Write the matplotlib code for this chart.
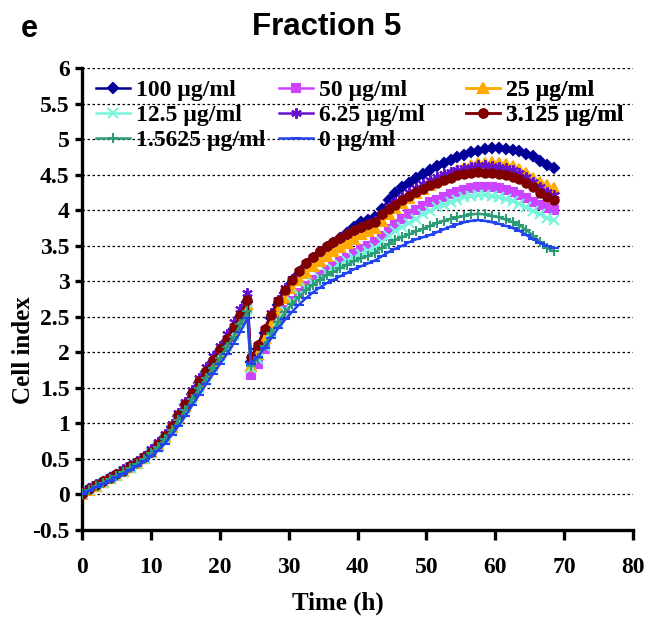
import matplotlib
matplotlib.use("Agg")
import matplotlib.pyplot as plt

# time points (h): hourly up to 24 h, then half-hour offset after the medium change
time_h = [0, 1, 2, 3, 4, 5, 6, 7, 8, 9, 10, 11, 12, 13, 14, 15, 16, 17, 18, 19,
          20, 21, 22, 23, 24,
          24.5, 25.5, 26.5, 27.5, 28.5, 29.5, 30.5, 31.5, 32.5, 33.5,
          34.5, 35.5, 36.5, 37.5, 38.5, 39.5, 40.5, 41.5, 42.5, 43.5,
          44.5, 45.5, 46.5, 47.5, 48.5, 49.5, 50.5, 51.5, 52.5, 53.5,
          54.5, 55.5, 56.5, 57.5, 58.5, 59.5, 60.5, 61.5, 62.5, 63.5,
          64.5, 65.5, 66.5, 67.5, 68.5]

ci_100 = [0, 0.07, 0.12, 0.17, 0.22, 0.27, 0.32, 0.38, 0.44, 0.51, 0.59, 0.69, 0.81, 0.95, 1.10,
          1.25, 1.41, 1.57, 1.72, 1.86, 2.01, 2.16, 2.32, 2.50, 2.70,
          1.86, 2.05, 2.27, 2.48, 2.67, 2.84, 2.98, 3.10, 3.21, 3.31,
          3.40, 3.47, 3.54, 3.61, 3.68, 3.76, 3.83, 3.86, 3.90, 4.02,
          4.14, 4.24, 4.32, 4.39, 4.45, 4.51, 4.56, 4.62, 4.67, 4.71,
          4.75, 4.78, 4.82, 4.84, 4.86, 4.87, 4.87, 4.86, 4.85, 4.83,
          4.79, 4.76, 4.70, 4.64, 4.60]
ci_50 = [0, 0.06, 0.11, 0.16, 0.21, 0.26, 0.31, 0.37, 0.43, 0.50, 0.58, 0.67, 0.78, 0.91, 1.05,
         1.20, 1.36, 1.52, 1.67, 1.81, 1.96, 2.11, 2.27, 2.44, 2.62,
         1.68, 1.84, 2.05, 2.26, 2.44, 2.59, 2.72, 2.83, 2.93, 3.02,
         3.09, 3.16, 3.22, 3.28, 3.33, 3.39, 3.45, 3.50, 3.55, 3.64,
         3.73, 3.80, 3.87, 3.94, 4.00, 4.06, 4.11, 4.15, 4.19, 4.23,
         4.26, 4.29, 4.31, 4.33, 4.33, 4.32, 4.31, 4.29, 4.26, 4.22,
         4.17, 4.12, 4.07, 4.03, 4.00]
ci_25 = [0, 0.06, 0.12, 0.17, 0.22, 0.27, 0.32, 0.38, 0.44, 0.51, 0.59, 0.69, 0.80, 0.94, 1.09,
         1.24, 1.40, 1.56, 1.71, 1.85, 2.00, 2.15, 2.31, 2.49, 2.68,
         1.80, 1.98, 2.20, 2.41, 2.60, 2.76, 2.90, 3.02, 3.12, 3.21,
         3.29, 3.36, 3.42, 3.48, 3.54, 3.60, 3.66, 3.70, 3.75, 3.85,
         3.95, 4.03, 4.10, 4.17, 4.24, 4.30, 4.36, 4.42, 4.47, 4.52,
         4.56, 4.60, 4.63, 4.66, 4.67, 4.68, 4.67, 4.65, 4.62, 4.58,
         4.52, 4.46, 4.40, 4.35, 4.31]
ci_12_5 = [0, 0.06, 0.11, 0.16, 0.21, 0.26, 0.31, 0.37, 0.43, 0.50, 0.58, 0.67, 0.78, 0.91, 1.05,
           1.20, 1.35, 1.50, 1.65, 1.79, 1.93, 2.08, 2.24, 2.41, 2.60,
           1.78, 1.90, 2.08, 2.27, 2.44, 2.58, 2.70, 2.81, 2.90, 2.98,
           3.05, 3.11, 3.17, 3.23, 3.28, 3.33, 3.38, 3.42, 3.47, 3.55,
           3.63, 3.70, 3.76, 3.82, 3.88, 3.94, 3.99, 4.04, 4.08, 4.12,
           4.15, 4.18, 4.20, 4.21, 4.21, 4.20, 4.18, 4.16, 4.13, 4.09,
           4.04, 3.99, 3.94, 3.89, 3.86]
ci_6_25 = [0, 0.08, 0.14, 0.19, 0.24, 0.29, 0.35, 0.41, 0.47, 0.54, 0.63, 0.73, 0.85, 0.99, 1.14,
           1.30, 1.47, 1.63, 1.79, 1.94, 2.09, 2.25, 2.42, 2.61, 2.84,
           1.90, 2.10, 2.33, 2.55, 2.74, 2.90, 3.03, 3.15, 3.25, 3.34,
           3.42, 3.49, 3.55, 3.61, 3.66, 3.72, 3.77, 3.81, 3.85, 3.95,
           4.04, 4.11, 4.18, 4.25, 4.31, 4.37, 4.42, 4.47, 4.51, 4.54,
           4.57, 4.59, 4.61, 4.63, 4.63, 4.62, 4.61, 4.59, 4.56, 4.52,
           4.47, 4.40, 4.33, 4.26, 4.21]
ci_3_125 = [0, 0.07, 0.13, 0.18, 0.23, 0.28, 0.33, 0.39, 0.45, 0.52, 0.60, 0.70, 0.82, 0.96, 1.11,
            1.27, 1.43, 1.59, 1.74, 1.89, 2.04, 2.19, 2.35, 2.53, 2.74,
            1.93, 2.10, 2.32, 2.53, 2.72, 2.88, 3.02, 3.14, 3.25, 3.34,
            3.42, 3.49, 3.55, 3.61, 3.66, 3.72, 3.77, 3.80, 3.84, 3.94,
            4.02, 4.08, 4.14, 4.20, 4.25, 4.30, 4.35, 4.39, 4.43, 4.46,
            4.49, 4.51, 4.53, 4.54, 4.53, 4.52, 4.51, 4.49, 4.47, 4.44,
            4.39, 4.32, 4.24, 4.18, 4.14]
ci_1_5625 = [0, 0.06, 0.11, 0.16, 0.21, 0.26, 0.31, 0.37, 0.43, 0.50, 0.58, 0.67, 0.78, 0.90, 1.04,
             1.19, 1.34, 1.49, 1.64, 1.78, 1.92, 2.07, 2.22, 2.39, 2.58,
             1.80, 1.92, 2.09, 2.27, 2.43, 2.56, 2.68, 2.78, 2.87, 2.95,
             3.02, 3.08, 3.13, 3.18, 3.23, 3.28, 3.32, 3.36, 3.40, 3.47,
             3.53, 3.58, 3.62, 3.66, 3.70, 3.74, 3.78, 3.82, 3.85, 3.88,
             3.90, 3.92, 3.94, 3.95, 3.94, 3.92, 3.90, 3.87, 3.83, 3.79,
             3.72, 3.64, 3.55, 3.47, 3.42]
ci_0 = [0, 0.05, 0.10, 0.14, 0.19, 0.24, 0.29, 0.34, 0.40, 0.46, 0.53, 0.61, 0.71, 0.83, 0.96,
        1.10, 1.25, 1.40, 1.55, 1.69, 1.83, 1.97, 2.12, 2.29, 2.48,
        1.84, 1.93, 2.06, 2.20, 2.34, 2.46, 2.57, 2.67, 2.76, 2.84,
        2.91, 2.97, 3.02, 3.07, 3.12, 3.17, 3.21, 3.25, 3.29, 3.35,
        3.41, 3.46, 3.50, 3.55, 3.59, 3.62, 3.65, 3.69, 3.73, 3.77,
        3.80, 3.83, 3.85, 3.86, 3.85, 3.83, 3.81, 3.78, 3.75, 3.71,
        3.65, 3.59, 3.54, 3.50, 3.47]

labels = ["100 µg/ml", "50 µg/ml", "25 µg/ml", "12.5 µg/ml",
          "6.25 µg/ml", "3.125 µg/ml", "1.5625 µg/ml", "0 µg/ml"]
series = [ci_100, ci_50, ci_25, ci_12_5, ci_6_25, ci_3_125, ci_1_5625, ci_0]
colors = ["#000099", "#CC44FF", "#FFAA00", "#77F5DD",
          "#6611CC", "#800000", "#2E9B77", "#2244EE"]
markers = ["D", "s", "^", "x", (6, 2, 0), "o", "+", "_"]
msizes = [5.5, 5.5, 6.5, 6.5, 7.5, 6, 7.5, 6.5]

y_ticks = [-0.5, 0, 0.5, 1, 1.5, 2, 2.5, 3, 3.5, 4, 4.5, 5, 5.5, 6]
y_ticklabels = ["-0.5", "0", "0.5", "1", "1.5", "2", "2.5", "3", "3.5", "4", "4.5", "5", "5.5", "6"]
x_ticks = [0, 10, 20, 30, 40, 50, 60, 70, 80]

serif = "Liberation Serif"
sans = "Liberation Sans"

fig = plt.figure(figsize=(6.46, 6.26), dpi=100)
ax = fig.add_axes([0.127, 0.154, 0.853, 0.737])

lines = []
for vals, lab, col, mk, ms in zip(series, labels, colors, markers, msizes):
    ln, = ax.plot(time_h, vals, color=col, lw=1.8, marker=mk, ms=ms,
                  mec=col, mfc=col, mew=1.5, label=lab, zorder=3)
    lines.append(ln)

ax.set_xlim(0, 80)
ax.set_ylim(-0.5, 6)
ax.set_xticks(x_ticks)
ax.set_xticklabels([str(t) for t in x_ticks])
ax.set_yticks(y_ticks)
ax.set_yticklabels(y_ticklabels)

for y in y_ticks[1:]:
    ax.axhline(y, color="black", lw=0.9, ls=(0, (2, 2)), zorder=1)

for side in ["top", "right"]:
    ax.spines[side].set_visible(False)
for side in ["left", "bottom"]:
    ax.spines[side].set_linewidth(2.4)

ax.tick_params(axis="x", direction="out", length=7, width=2.4, pad=13)
ax.tick_params(axis="y", direction="out", length=5, width=2.4, pad=4)
for lbl in ax.get_xticklabels() + ax.get_yticklabels():
    lbl.set_fontfamily(serif)
    lbl.set_fontweight("bold")
    lbl.set_fontsize(17)

fig.text(338 / 646, 1 - 603 / 626, "Time (h)", ha="center", va="center",
         fontfamily=serif, fontweight="bold", fontsize=18)
fig.text(24 / 646, 1 - 350 / 626, "Cell index", ha="center", va="center", rotation=90,
         fontfamily=serif, fontweight="bold", fontsize=18)

# legend laid out row by row like the original: one small legend per column
legend_cols = [[0, 3, 6], [1, 4, 7], [2, 5]]
col_x = [(96 - 82) / 551, (279 - 82) / 551, (466 - 82) / 551]
for idx, x0 in zip(legend_cols, col_x):
    leg = ax.legend([lines[i] for i in idx], [labels[i] for i in idx],
                    loc="upper left", bbox_to_anchor=(x0, 0.976),
                    frameon=False, handlelength=1.45, handletextpad=0.25,
                    labelspacing=0.16, borderpad=0, borderaxespad=0,
                    prop={"family": serif, "weight": "bold", "size": 17})
    ax.add_artist(leg)

fig.text(327 / 646, 1 - 27 / 626, "Fraction 5", ha="center", va="center",
         fontfamily=sans, fontweight="bold", fontsize=22.5)
fig.text(21 / 646, 1 - 29 / 626, "e", ha="left", va="center",
         fontfamily=sans, fontweight="bold", fontsize=22)

fig.savefig("out.png", dpi=100)
